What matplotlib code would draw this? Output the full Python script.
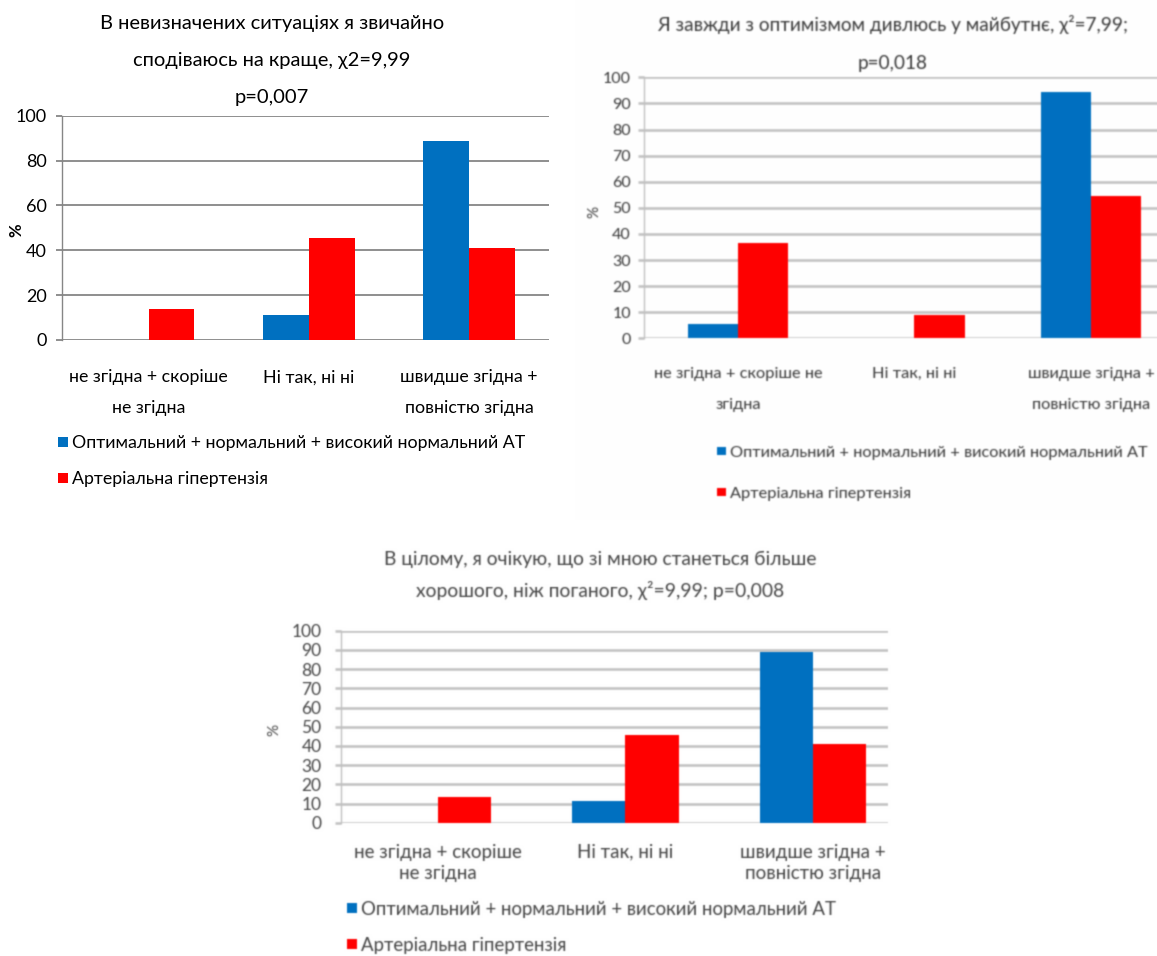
import matplotlib
matplotlib.use("Agg")
import matplotlib.pyplot as plt
import numpy as np
from matplotlib.patches import Rectangle
from matplotlib.transforms import blended_transform_factory

# ---- data ----
series_names = ["Оптимальний + нормальний + високий нормальний АТ",
                "Артеріальна гіпертензія"]

cats_a = ["не згідна + скоріше\nне згідна", "Ні так, ні ні", "швидше згідна +\nповністю згідна"]
normal_a = [0, 11.1, 88.9]
hyper_a = [13.6, 45.5, 40.9]
title_a = ["В невизначених ситуаціях я звичайно", "сподіваюсь на краще, χ2=9,99", "p=0,007"]

cats_b = ["не згідна + скоріше не\nзгідна", "Ні так, ні ні", "швидше згідна +\nповністю згідна"]
normal_b = [5.6, 0, 94.4]
hyper_b = [36.4, 9.1, 54.5]
title_b = ["Я завжди з оптимізмом дивлюсь у майбутнє, χ²=7,99;", "p=0,018"]

cats_c = ["не згідна + скоріше\nне згідна", "Ні так, ні ні", "швидше згідна +\nповністю згідна"]
normal_c = [0, 11.1, 88.9]
hyper_c = [13.6, 45.5, 40.9]
title_c = ["В цілому, я очікую, що зі мною станеться більше",
           "хорошого, ніж поганого, χ²=9,99; p=0,008"]

yticks_a = [0, 20, 40, 60, 80, 100]
yticks_bc = [0, 10, 20, 30, 40, 50, 60, 70, 80, 90, 100]

BLUE = "#0070C0"
RED = "#FF0000"
FONT = "Lato"

W, H = 1157, 956
DPI = 100
fig = plt.figure(figsize=(W / DPI, H / DPI), dpi=DPI)


def fx(px):
    return px / W


def fy(py):
    return 1 - py / H


def text_line(x, y_center, s, size, color, ha="center", **kw):
    # place a single line so that its capital letters are centred on y_center
    em = size * DPI / 72
    fig.text(fx(x), fy(y_center + 0.36 * em), s, ha=ha, va="baseline",
             family=FONT, fontsize=size, color=color, **kw)


def panel(box, cats, blue, red, yticks, xlim, bar_w, tick_fs, cat_fs, cat_rows,
          color, grid_color, grid_lw, tick_pad):
    left, top, right, bottom = box
    ax = fig.add_axes([fx(left), fy(bottom), (right - left) / W, (bottom - top) / H])
    x = np.arange(len(cats))
    ax.bar(x - bar_w / 2, blue, bar_w, color=BLUE, linewidth=0, zorder=3)
    ax.bar(x + bar_w / 2, red, bar_w, color=RED, linewidth=0, zorder=3)
    ax.set_xlim(*xlim)
    ax.set_ylim(0, 100)
    ax.set_yticks(yticks)
    ax.set_axisbelow(True)
    ax.yaxis.grid(True, color=grid_color, linewidth=grid_lw)
    for s in ("top", "right", "bottom"):
        ax.spines[s].set_visible(False)
    ax.spines["left"].set_color(grid_color)
    ax.spines["left"].set_linewidth(1.0)
    ax.tick_params(axis="y", length=4, width=grid_lw, color=grid_color, pad=tick_pad,
                   labelsize=tick_fs, labelcolor=color)
    for lab in ax.get_yticklabels():
        lab.set_family(FONT)
    ax.set_xticks(x)
    ax.set_xticklabels([])
    ax.tick_params(axis="x", length=0)
    trans = blended_transform_factory(ax.transData, fig.transFigure)
    em = cat_fs * DPI / 72
    for xi, lab in zip(x, cats):
        for row, line in zip(cat_rows, lab.split("\n")):
            ax.text(xi, fy(row + 0.36 * em), line, transform=trans, ha="center",
                    va="baseline", family=FONT, fontsize=cat_fs, color=color)
    return ax


def legend_rows(x, rows, sq, size, color, gap):
    for yc, name, col in zip(rows, series_names, (BLUE, RED)):
        fig.patches.append(Rectangle((fx(x), fy(yc + sq / 2)), sq / W, sq / H,
                                     transform=fig.transFigure, color=col, lw=0))
        text_line(x + sq + gap, yc, name, size, color, ha="left")


# ---- top-left panel ----
panel((62, 115.7, 549, 340), cats_a, normal_a, hyper_a, yticks_a, (-0.54, 2.5), 0.287,
      13, 12.8, (376, 407), "black", "#868686", 1.3, 7)
for yc, line in zip((22, 59, 96), title_a):
    text_line(272, yc, line, 14.5, "black")
text_line(16, 228, "%", 12, "black", fontweight="bold", rotation=90)
legend_rows(58, (442, 478), 10, 12.8, "black", 4)

# ---- top-right panel ----
panel((643.5, 77.3, 1157, 338.3), cats_b, normal_b, hyper_b, yticks_bc, (-0.535, 2.374), 0.285,
      11.5, 11.8, (372, 403), "#383838", "#c0c0c0", 1.8, 5)
for yc, line in zip((24, 62), title_b):
    text_line(893, yc, line, 13.7, "#383838")
text_line(594, 210, "%", 11, "#383838", rotation=90)
legend_rows(717, (451, 492), 8.5, 11.8, "#383838", 4)

# ---- bottom panel ----
panel((341, 630.7, 888, 822.7), cats_c, normal_c, hyper_c, yticks_bc, (-0.517, 2.40), 0.283,
      12.5, 13.5, (851, 872), "#454545", "#c0c0c0", 1.8, 10)
for yc, line in zip((558, 590), title_c):
    text_line(600, yc, line, 13.9, "#454545")
text_line(274, 727, "%", 11, "#454545", rotation=90)
legend_rows(347, (908, 944), 10, 13.4, "#454545", 4)

# ---- render, soften the two lower-resolution panels, save ----
fig.canvas.draw()
img = np.asarray(fig.canvas.buffer_rgba())[:, :, :3].astype(float)


def blur_region(a, y0, y1, x0, x1, sigma):
    r = int(3 * sigma) + 1
    ys0, ys1 = max(0, y0 - r), min(a.shape[0], y1 + r)
    xs0, xs1 = max(0, x0 - r), min(a.shape[1], x1 + r)
    sub = a[ys0:ys1, xs0:xs1]
    k = np.exp(-0.5 * (np.arange(-r, r + 1) / sigma) ** 2)
    k /= k.sum()
    p = np.pad(sub, ((0, 0), (r, r), (0, 0)), mode="edge")
    h = sum(k[i] * p[:, i:i + sub.shape[1]] for i in range(2 * r + 1))
    p = np.pad(h, ((r, r), (0, 0), (0, 0)), mode="edge")
    v = sum(k[i] * p[i:i + sub.shape[0]] for i in range(2 * r + 1))
    a[y0:y1, x0:x1] = v[y0 - ys0:y1 - ys0, x0 - xs0:x1 - xs0]


blur_region(img, 0, 520, 575, W, 0.75)
blur_region(img, 525, H, 0, W, 0.7)
plt.imsave("out.png", np.clip(img, 0, 255).astype(np.uint8))
